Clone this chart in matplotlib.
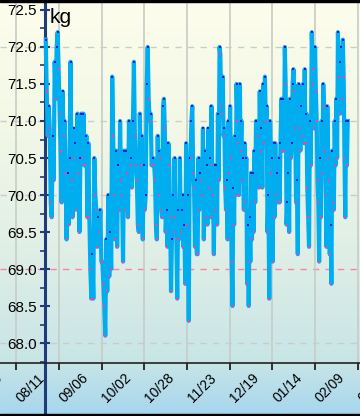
import matplotlib
matplotlib.use('Agg')
import matplotlib.pyplot as plt
import matplotlib.dates as mdates
import matplotlib.transforms as mtransforms
from matplotlib.colors import LinearSegmentedColormap
from matplotlib.patches import Rectangle
from matplotlib.ticker import MultipleLocator, FormatStrFormatter
import numpy as np

plt.rcParams['font.family'] = ['Liberation Sans', 'DejaVu Sans']

# weight readings (kg), grouped by period
w1 = [72.1, 71.4, 70.8, 71.2, 70.9, 69.9, 69.7, 70.8, 70.2, 71.8, 71.3, 72.0, 72.2, 71.7,
      71.1, 70.6, 69.9, 71.4, 70.8, 71.0, 70.3, 69.4, 70.3, 69.6, 70.5, 71.8, 70.2, 69.7,
      70.9, 70.5, 70.7, 69.8, 71.1, 70.3, 69.5, 70.5, 71.1, 70.5, 71.1, 70.4, 70.4, 70.8,
      69.7, 70.7, 69.7, 69.0, 68.6, 69.2, 68.6, 70.5, 70.0, 69.8, 69.3, 69.7]
w2 = [69.5, 69.8, 69.1, 69.1, 68.8, 68.5, 68.1, 69.4, 68.7, 70.0, 68.9, 69.5, 69.0, 71.6,
      70.8, 70.0, 69.4, 70.6, 69.3, 70.4, 69.8, 71.0, 70.2, 70.0, 69.1, 70.6, 69.8, 70.6,
      70.3, 69.7, 71.0, 70.4, 70.5, 70.1, 71.0, 71.8, 70.8, 70.4, 70.2, 69.6, 69.5, 71.1,
      70.4, 70.8, 69.4, 70.4, 69.8, 70.0, 71.5, 72.0, 71.3, 71.0, 71.1, 70.4]
w3 = [70.5, 70.4, 70.2, 69.6, 69.4, 70.8, 70.0, 70.6, 70.5, 69.8, 69.7, 71.2, 71.3, 70.9,
      69.5, 69.8, 69.3, 70.7, 70.4, 69.7, 68.7, 69.4, 70.0, 69.5, 70.5, 69.7, 69.4, 68.6,
      69.8, 69.4, 70.5, 69.5, 69.8, 70.0, 69.3, 69.6, 68.8, 70.7, 69.6, 70.0, 68.3, 70.5,
      70.5, 71.0, 71.2, 70.3, 70.1, 69.3, 70.2, 69.2, 69.2, 70.5, 69.8, 70.3, 70.2, 70.0,
      70.9, 69.4, 70.6]
w4 = [69.7, 70.4, 69.6, 70.9, 70.1, 70.5, 69.7, 71.2, 70.4, 70.0, 69.2, 70.4, 69.8, 70.4,
      69.6, 71.1, 70.2, 72.0, 71.9, 71.2, 71.1, 71.6, 70.8, 70.9, 70.1, 69.8, 70.2, 69.4,
      71.0, 70.3, 71.2, 70.5, 69.1, 68.5, 70.1, 69.6, 70.8, 70.0, 71.5, 71.0, 70.7, 70.0,
      71.5, 70.6, 71.0, 70.2, 70.5, 69.8, 70.7, 69.9, 70.5, 68.8, 69.6, 68.5, 69.7, 69.1,
      70.3, 69.4, 70.3, 69.5, 70.6, 69.9, 71.0]
w5 = [70.8, 70.1, 71.4, 70.6, 70.9, 70.1, 71.5, 70.7, 71.6, 71.0, 71.2, 69.5, 70.0, 68.6,
      71.0, 70.3, 70.5, 69.1, 70.7, 69.7, 70.7, 70.0, 70.3, 69.9, 70.5, 69.9, 70.7, 71.3,
      70.6, 71.3, 70.6, 72.0, 71.5, 69.6, 69.9, 70.3, 69.5, 71.3, 70.5, 70.7, 71.5, 71.7,
      71.4, 70.9, 69.9, 70.2, 69.2, 71.5, 70.9, 70.6, 71.2, 70.8, 71.5, 70.7, 71.7, 70.7,
      71.1, 70.1, 69.7, 69.3, 71.0, 70.4]
w6 = [72.2, 71.7, 71.5, 70.9, 72.0, 71.4, 71.0, 70.2, 69.9, 69.1, 70.5, 69.7, 71.0, 70.3,
      71.5, 71.2, 70.6, 70.0, 69.3, 71.2, 70.5, 70.2, 69.2, 69.6, 68.8, 70.6, 69.9, 69.8,
      71.0, 70.4, 71.3, 70.5, 72.2, 71.6, 71.8, 71.1, 72.0, 71.3, 72.1, 71.6, 70.5, 69.7,
      71.0, 70.4, 71.0]
weights = [w1, w2, w3, w4, w5, w6]
seg_start = ['2013-08-29 02:00', '2013-09-30 17:00', '2013-11-02 12:00',
             '2013-12-04 10:00', '2014-01-05 05:00', '2014-02-06 22:00']
seg_end = ['2013-09-30 01:00', '2013-11-01 12:00', '2013-12-03 19:00',
           '2014-01-04 00:00', '2014-02-06 07:00', '2014-02-28 19:00']

tick_dates = ['2013-07-16', '2013-08-11', '2013-09-06', '2013-10-02', '2013-10-28',
              '2013-11-23', '2013-12-19', '2014-01-14', '2014-02-09', '2014-03-07']
tick_labels = ['07/16', '08/11', '09/06', '10/02', '10/28',
               '11/23', '12/19', '01/14', '02/09', '03/07']
x_range = ['2013-08-01 06:00', '2014-03-08 06:00']
axis_date = '2013-08-28 15:00'
grid_levels = [68, 69, 70, 71, 72]
target = 69
y_range = [67.73, 72.635]

navy = '#1d3c78'
line_blue = '#00aeef'
dot_blue = '#1a1ae6'
dot_pink = '#ff3fa0'


def num(s):
    return mdates.datestr2num(s)


x = np.concatenate([np.linspace(num(a), num(b), len(w))
                    for a, b, w in zip(seg_start, seg_end, weights)])
y = np.concatenate([np.array(w, dtype=float) for w in weights])
up = np.concatenate([[True], y[1:] > y[:-1]])

fig = plt.figure(figsize=(3.6, 4.16), dpi=100)

# background gradient
bg = fig.add_axes([0, 0, 1, 1])
cmap = LinearSegmentedColormap.from_list('bg', [
    (0.0, '#fdfdec'), (0.3, '#f3f8e6'), (0.6, '#e0efe6'),
    (0.87, '#c8e5e6'), (1.0, '#a6d6ef')])
bg.imshow(np.linspace(0, 1, 256).reshape(-1, 1), aspect='auto', cmap=cmap,
          extent=[0, 1, 0, 1])
bg.axis('off')

ax = fig.add_axes([0, 53 / 416, 1, 363 / 416])
ax.patch.set_alpha(0)

for lev in grid_levels:
    ax.axhline(lev, color='#ff7fa8' if lev == target else '#c8cccc',
               lw=1.0, ls=(0, (4.5, 4.5)), zorder=1)

ticks = [num(d) for d in tick_dates]
ax.set_xticks(ticks)
ax.set_xticklabels([])
ax.grid(axis='x', color='#c6cdc6', lw=1.2, zorder=0)
ax.tick_params(axis='x', direction='out', length=5, width=1.3, color='#222222')

# limits after set_xticks, which would otherwise widen them
ax.set_xlim(num(x_range[0]), num(x_range[1]))
ax.set_ylim(*y_range)

off = mtransforms.ScaledTranslation(0.15, -0.25, fig.dpi_scale_trans)
for t, lab in zip(ticks, tick_labels):
    ax.text(t, 0, lab, transform=ax.get_xaxis_transform() + off, rotation=45,
            ha='center', va='center', fontsize=10, clip_on=False)

ax.plot(x, y, color=line_blue, lw=3.0, zorder=3)
ax.plot(x[up], y[up], 's', color=dot_blue, ms=2.0, mew=0, zorder=4)
ax.plot(x[~up], y[~up], 's', color=dot_pink, ms=2.0, mew=0, zorder=4)

ax.spines['top'].set_visible(False)
ax.spines['right'].set_visible(False)
ax.spines['bottom'].set_color('#222222')
ax.spines['bottom'].set_linewidth(1.2)
ax.spines['left'].set_position(('data', num(axis_date)))
ax.spines['left'].set_color(navy)
ax.spines['left'].set_linewidth(2.2)
ax.plot([num(axis_date)] * 2, [-53 / 363, 0], transform=ax.get_xaxis_transform(),
        color=navy, lw=2.2, clip_on=False)

ax.yaxis.set_major_locator(MultipleLocator(0.5))
ax.yaxis.set_minor_locator(MultipleLocator(0.25))
ax.yaxis.set_major_formatter(FormatStrFormatter('%.1f'))
ax.tick_params(axis='y', which='major', direction='inout', length=7.2, width=1.5,
               color=navy, pad=2.2, labelsize=11)
ax.tick_params(axis='y', which='minor', direction='out', length=3.6, width=1.2,
               color=navy)

fig.text(50 / 360, 1 - 8 / 416, 'kg', fontsize=15, va='top')

fig.add_artist(Rectangle((0, 1 - 2 / 416), 1, 2 / 416, transform=fig.transFigure,
                         color='black'))
fig.add_artist(Rectangle((0, 0), 1, 2 / 416, transform=fig.transFigure,
                         color='black'))

fig.savefig('out.png', dpi=100)
